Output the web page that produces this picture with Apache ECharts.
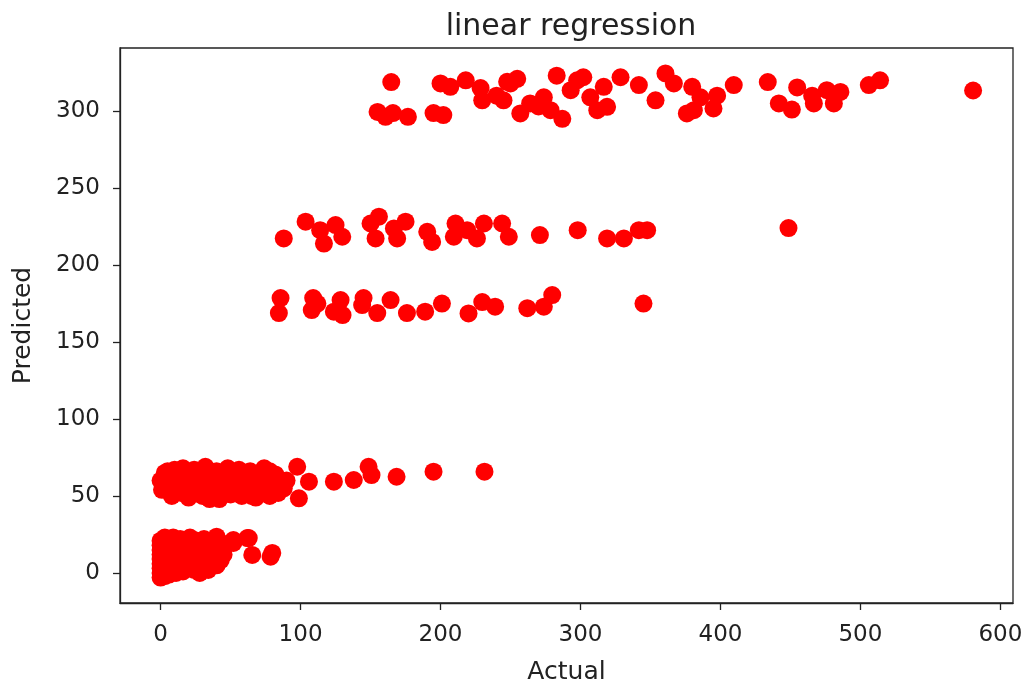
<!DOCTYPE html>
<html>
<head>
<meta charset="utf-8">
<script src="https://cdn.jsdelivr.net/npm/echarts@6/dist/echarts.min.js"></script>
<style>
  html, body { margin: 0; padding: 0; background: #fff; }
  #chart { width: 1028px; height: 684px; }
</style>
</head>
<body>
<div id="chart"></div>
<script>
// [actual, predicted] pairs, grouped by band
let bandTop = [
    [164.8, 318.9], [155, 299.5], [160.7, 296.3], [176.7, 296.3], [166, 298.7],
    [200, 318], [195, 298.7], [202, 297.4], [207, 315.8], [218, 320],
    [228.6, 315], [229.8, 307], [245, 307], [247.6, 319], [254.8, 321],
    [257, 298.5], [264, 305], [273.8, 309], [283, 323], [287, 295],
    [278.6, 300.6], [293, 313.6], [297.6, 320], [302, 322], [307, 309],
    [312, 300.6], [319, 302.8], [316.6, 315.8], [328.6, 322], [341.7, 316.9],
    [353.6, 307], [360.7, 324.5], [366.7, 318], [376, 298.5], [270, 303],
    [379.8, 315.8], [381, 300.6], [385.7, 309], [395, 301.7], [397.6, 310],
    [409.5, 316.9], [433.8, 318.9], [441.7, 305], [451, 301], [454.8, 315.4],
    [465.5, 310], [466.7, 305], [476, 313.6], [481, 305], [485.7, 312.5],
    [506, 316.9], [514, 320], [580.5, 313.4], [240, 310], [250, 318]
];
let bandUpper = [
    [88, 217.3], [103.6, 228.2], [114, 222.7], [116.7, 214], [125, 226],
    [129.8, 218.4], [150, 227], [156, 231.4], [153.6, 217.3], [166.7, 223.8],
    [169, 217.3], [175, 228.2], [190.5, 221.6], [194, 215], [210.7, 227],
    [209.5, 218.4], [219, 222.7], [226, 217.3], [231, 227], [244, 227],
    [248.8, 218.4], [271, 219.5], [298, 222.7], [319, 217.3], [331, 217.3],
    [341.7, 222.7], [347.6, 222.7], [448.6, 224]
];
let bandMid = [
    [85.7, 178.6], [84.5, 168.8], [109, 178.6], [108, 170.8], [128.6, 177.3],
    [123.8, 169.7], [145, 178.6], [144, 174], [154.8, 168.8], [164.3, 177.3],
    [176, 168.8], [189, 169.7], [201, 175], [220, 168.6], [229.8, 176],
    [239, 173], [262, 172], [273.8, 173], [279.8, 180.5], [345, 175],
    [130, 167.5], [112, 175]
];
let bandLow = [
    [97.6, 69], [85.7, 56], [98.8, 48.5], [106, 59.3], [123.8, 59.3],
    [138, 60.4], [148.6, 69], [150.7, 63.6], [168.6, 62.5], [195, 65.8],
    [231.4, 65.8], [0, 60], [1, 54], [3, 65], [6, 58], [8, 50], [10, 67],
    [12, 61], [14, 54], [16, 68], [18, 57], [20, 49], [22, 63], [24, 67],
    [26, 55], [28, 60], [30, 50], [32, 69], [34, 58], [36, 63], [38, 53],
    [40, 66], [42, 48], [44, 60], [46, 55], [48, 68], [50, 51], [52, 62],
    [54, 57], [56, 67], [58, 50], [60, 61], [62, 54], [64, 66], [66, 58],
    [68, 49], [70, 64], [72, 55], [74, 68], [76, 60], [78, 50], [80, 57],
    [82, 64], [84, 52], [86, 59], [5, 66], [15, 52], [25, 59], [35, 48],
    [45, 65], [55, 53], [65, 50], [75, 62], [88, 55], [90, 60], [57, 61],
    [5, 62], [20, 57], [30, 64], [42, 58], [62, 60], [78, 66]
];
let bandZero = [
    [0, -3], [0, 0], [0, 3], [0, 6], [0, 9], [0, 12], [0, 15], [0, 18],
    [0, 21], [1, -1], [1, 4], [1, 10], [1, 16], [2, 1], [2, 7], [2, 13],
    [2, 20], [3, -2], [3, 5], [3, 11], [3, 23], [4, 2], [4, 17], [5, 8],
    [5, 14], [5, 21], [6, -1], [6, 5], [7, 11], [7, 19], [8, 2], [8, 16],
    [9, 23], [10, 7], [10, 13], [11, 0], [12, 19], [13, 4], [13, 10],
    [14, 22], [15, 15], [16, 1], [17, 8], [18, 20], [19, 13], [20, 4],
    [21, 23], [22, 10], [23, 17], [24, 2], [25, 14], [26, 21], [27, 7],
    [28, 0], [29, 18], [30, 11], [31, 22], [32, 4], [33, 15], [35, 8],
    [36, 19], [38, 13], [40, 23.6], [40, 5], [42, 17], [43, 8.4], [45, 12],
    [48, 19], [52, 21.4], [52, 19.5], [62, 22.7], [63, 22.7], [65.5, 11.7],
    [78.6, 10.6], [79.8, 13], [11, 19], [20, 8], [34, 2]
];

let xTicks = [0, 100, 200, 300, 400, 500, 600];
let yTicks = [0, 50, 100, 150, 200, 250, 300];

let chart = echarts.init(document.getElementById('chart'));

let font = 'DejaVu Sans';
let textColor = '#222';

let points = bandTop.concat(bandUpper, bandMid, bandLow, bandZero);

let option = {
    animation: false,
    backgroundColor: '#fff',
    title: {
        text: 'linear regression',
        left: 566,
        top: 7,
        textAlign: 'center',
        textStyle: {
            fontFamily: font,
            fontWeight: 'normal',
            fontSize: 30,
            color: textColor
        }
    },
    grid: {
        left: 120,
        right: 15,
        top: 48,
        bottom: 81,
        outerBoundsMode: 'none',
        containLabel: false,
        show: true,
        borderColor: '#222',
        borderWidth: 1.3,
        backgroundColor: '#fff'
    },
    xAxis: {
        type: 'value',
        min: -29,
        max: 609,
        name: 'Actual',
        nameLocation: 'middle',
        nameGap: 57,
        nameTextStyle: { fontFamily: font, fontSize: 25, color: textColor },
        splitLine: { show: false },
        axisLine: { show: true, onZero: false, lineStyle: { color: '#222', width: 1.3 } },
        axisTick: {
            show: true,
            length: 7,
            inside: false,
            customValues: xTicks,
            lineStyle: { color: '#222', width: 1.3 }
        },
        axisLabel: {
            customValues: xTicks,
            margin: 21,
            fontFamily: font,
            fontSize: 23,
            color: textColor
        }
    },
    yAxis: {
        type: 'value',
        min: -19.5,
        max: 341,
        name: 'Predicted',
        nameLocation: 'middle',
        nameGap: 84,
        nameRotate: 90,
        nameTextStyle: { fontFamily: font, fontSize: 25, color: textColor },
        splitLine: { show: false },
        axisLine: { show: true, onZero: false, lineStyle: { color: '#222', width: 1.3 } },
        axisTick: {
            show: true,
            length: 7,
            inside: false,
            customValues: yTicks,
            lineStyle: { color: '#222', width: 1.3 }
        },
        axisLabel: {
            customValues: yTicks,
            margin: 20,
            fontFamily: font,
            fontSize: 23,
            color: textColor
        }
    },
    series: [
        {
            type: 'scatter',
            data: points,
            symbol: 'circle',
            symbolSize: 18,
            itemStyle: { color: '#ff0000', opacity: 1 }
        }
    ]
};

chart.setOption(option);
</script>
</body>
</html>
